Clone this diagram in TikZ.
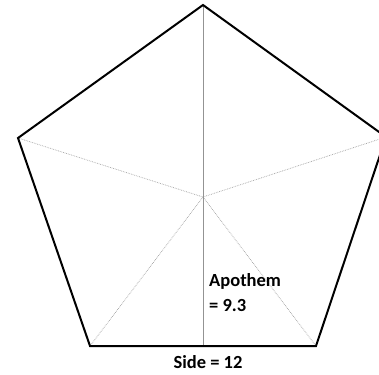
\documentclass[tikz,border=0pt]{standalone}
\usepackage{fontspec}
\setmainfont{Carlito}
\begin{document}
\begin{tikzpicture}[x=1pt, y=-1pt,
    edge/.style={draw=black, line width=2pt, line join=miter},
    spoke/.style={draw=gray!75, line width=0.7pt, densely dotted},
    apo/.style={draw=gray!85, line width=0.9pt},
    lbl/.style={font=\fontsize{18.5}{25}\selectfont\bfseries,
      inner sep=0pt, align=left}
  ]
    \useasboundingbox (0,0) rectangle (379,374);
    \clip (0,0) rectangle (379,374);

    % Vertices
    \coordinate (top) at (203,5);
    \coordinate (right) at (386,137);
    \coordinate (bright) at (316,346);
    \coordinate (bleft) at (90,346);
    \coordinate (left) at (18,138);
    \coordinate (center) at (203,197);
    \coordinate (foot) at (203,346);

    % Spokes and apothem
    \draw[spoke] (center) -- (left);
    \draw[spoke] (center) -- (right);
    \draw[spoke] (center) -- (bleft);
    \draw[spoke] (center) -- (bright);
    \draw[apo] (top) -- (foot);

    % Pentagon
    \draw[edge] (top) -- (right) -- (bright) -- (bleft) -- (left) -- cycle;

    % Labels
    \node[lbl, anchor=north west] (apothem) at (209,273) {Apothem\\= 9.3};
    \node[lbl, anchor=base] (side) at (208,368) {Side = 12};
  \end{tikzpicture}
\end{document}
